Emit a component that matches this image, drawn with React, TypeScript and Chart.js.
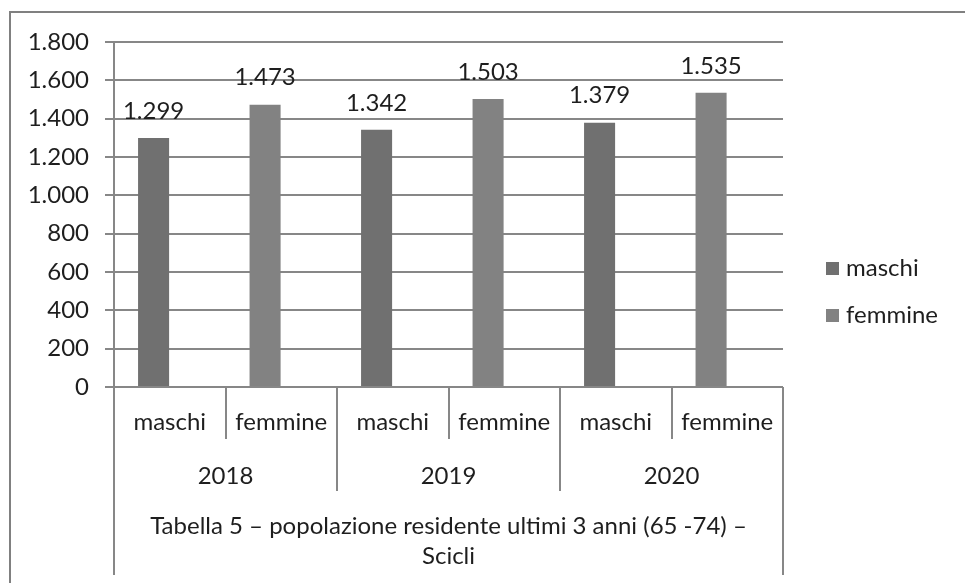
import React, { useEffect, useRef } from "react";
import { Chart, registerables } from "chart.js";

Chart.register(...registerables);

const categories = ["maschi", "femmine", "maschi", "femmine", "maschi", "femmine"];
const years = ["2018", "2019", "2020"];
const seriesNames = ["maschi", "femmine"];
const maschiValues = [1299, null, 1342, null, 1379, null];
const femmineValues = [null, 1473, null, 1503, null, 1535];
const yMax = 1800;
const yStep = 200;
const titleLines = ["Tabella 5 – popolazione residente ultimi 3 anni (65 -74) –", "Scicli"];

const FONT = "Lato";
const FS = 24;
const TEXT = "#1e1e1e";
const LINE = "#878787";
const COLORS = ["#707070", "#828282"];

const fmt = (v: number) => String(v).replace(/\B(?=(\d{3})+(?!\d))/g, ".");

const decoPlugin = {
  id: "deco",
  afterDraw(chart: any) {
    const ctx = chart.ctx;
    const x = chart.scales.x;
    const area = chart.chartArea;
    ctx.save();
    // outer frame
    ctx.strokeStyle = "#808080";
    ctx.lineWidth = 2;
    ctx.strokeRect(10, 12, 1200, 1200);

    const n = categories.length;
    const step = n > 1 ? x.getPixelForValue(1) - x.getPixelForValue(0) : area.right - area.left;
    const bound = (i: number) => x.getPixelForValue(i) - step / 2;

    ctx.strokeStyle = LINE;
    ctx.lineWidth = 2;
    for (let i = 0; i <= n; i++) {
      const bx = Math.round(bound(i));
      let y2 = 439;
      if (i === 0 || i === n) y2 = 575;
      else if (i % 2 === 0) y2 = 491;
      ctx.beginPath();
      ctx.moveTo(bx, area.bottom);
      ctx.lineTo(bx, y2);
      ctx.stroke();
    }

    ctx.fillStyle = TEXT;
    ctx.font = `${FS}px ${FONT}`;
    ctx.textAlign = "center";
    ctx.textBaseline = "middle";
    categories.forEach((c, i) => {
      ctx.fillText(c, x.getPixelForValue(i), 422);
    });
    years.forEach((yr, j) => {
      const cx = (bound(j * 2) + bound(j * 2 + 2)) / 2;
      ctx.fillText(yr, cx, 476);
    });
    const mid = (area.left + area.right) / 2;
    ctx.fillText(titleLines[0], mid, 526);
    ctx.fillText(titleLines[1], mid, 556);

    // data labels
    chart.data.datasets.forEach((ds: any, di: number) => {
      const meta = chart.getDatasetMeta(di);
      ds.data.forEach((v: any, i: number) => {
        if (v == null) return;
        const el = meta.data[i];
        ctx.fillText(fmt(v), el.x, el.y - 27);
      });
    });

    // legend
    const ly = [268, 315];
    seriesNames.forEach((name, i) => {
      ctx.fillStyle = COLORS[i];
      ctx.fillRect(826, ly[i] - 6, 13, 13);
      ctx.fillStyle = TEXT;
      ctx.textAlign = "left";
      ctx.fillText(name, 846, ly[i]);
    });
    ctx.restore();
  },
};

export default function App() {
  const ref = useRef<HTMLCanvasElement | null>(null);
  useEffect(() => {
    if (!ref.current) return;
    const chart = new Chart(ref.current, {
      type: "bar",
      data: {
        labels: categories,
        datasets: [
          { label: seriesNames[0], data: maschiValues, backgroundColor: COLORS[0], stack: "a" },
          { label: seriesNames[1], data: femmineValues, backgroundColor: COLORS[1], stack: "a" },
          { label: "", data: categories.map(() => null), backgroundColor: "transparent", stack: "b" },
        ],
      },
      options: {
        animation: false,
        responsive: false,
        maintainAspectRatio: false,
        layout: { padding: { left: 0, top: 42, right: 182, bottom: 0 } },
        datasets: { bar: { categoryPercentage: 0.58, barPercentage: 0.96 } },
        plugins: { legend: { display: false }, tooltip: { enabled: false } },
        scales: {
          x: {
            grid: { display: false },
            border: { display: false },
            ticks: { display: false },
            afterFit: (s: any) => {
              s.height = 583 - 387;
            },
          },
          y: {
            stacked: true,
            min: 0,
            max: yMax,
            ticks: {
              stepSize: yStep,
              padding: 16,
              color: TEXT,
              font: { family: FONT, size: FS },
              callback: (v: any) => fmt(Number(v)),
            },
            grid: { color: LINE, lineWidth: 2, tickLength: 9, drawTicks: true },
            border: { display: true, color: LINE, width: 2 },
            afterFit: (s: any) => {
              s.width = 114;
            },
          },
        },
      },
      plugins: [decoPlugin],
    });
    return () => chart.destroy();
  }, []);
  return (
    <div style={{ position: "fixed", left: 0, top: 0, width: 965, height: 583, background: "#fff" }}>
      <canvas ref={ref} width={965} height={583} style={{ width: 965, height: 583, display: "block" }} />
    </div>
  );
}
